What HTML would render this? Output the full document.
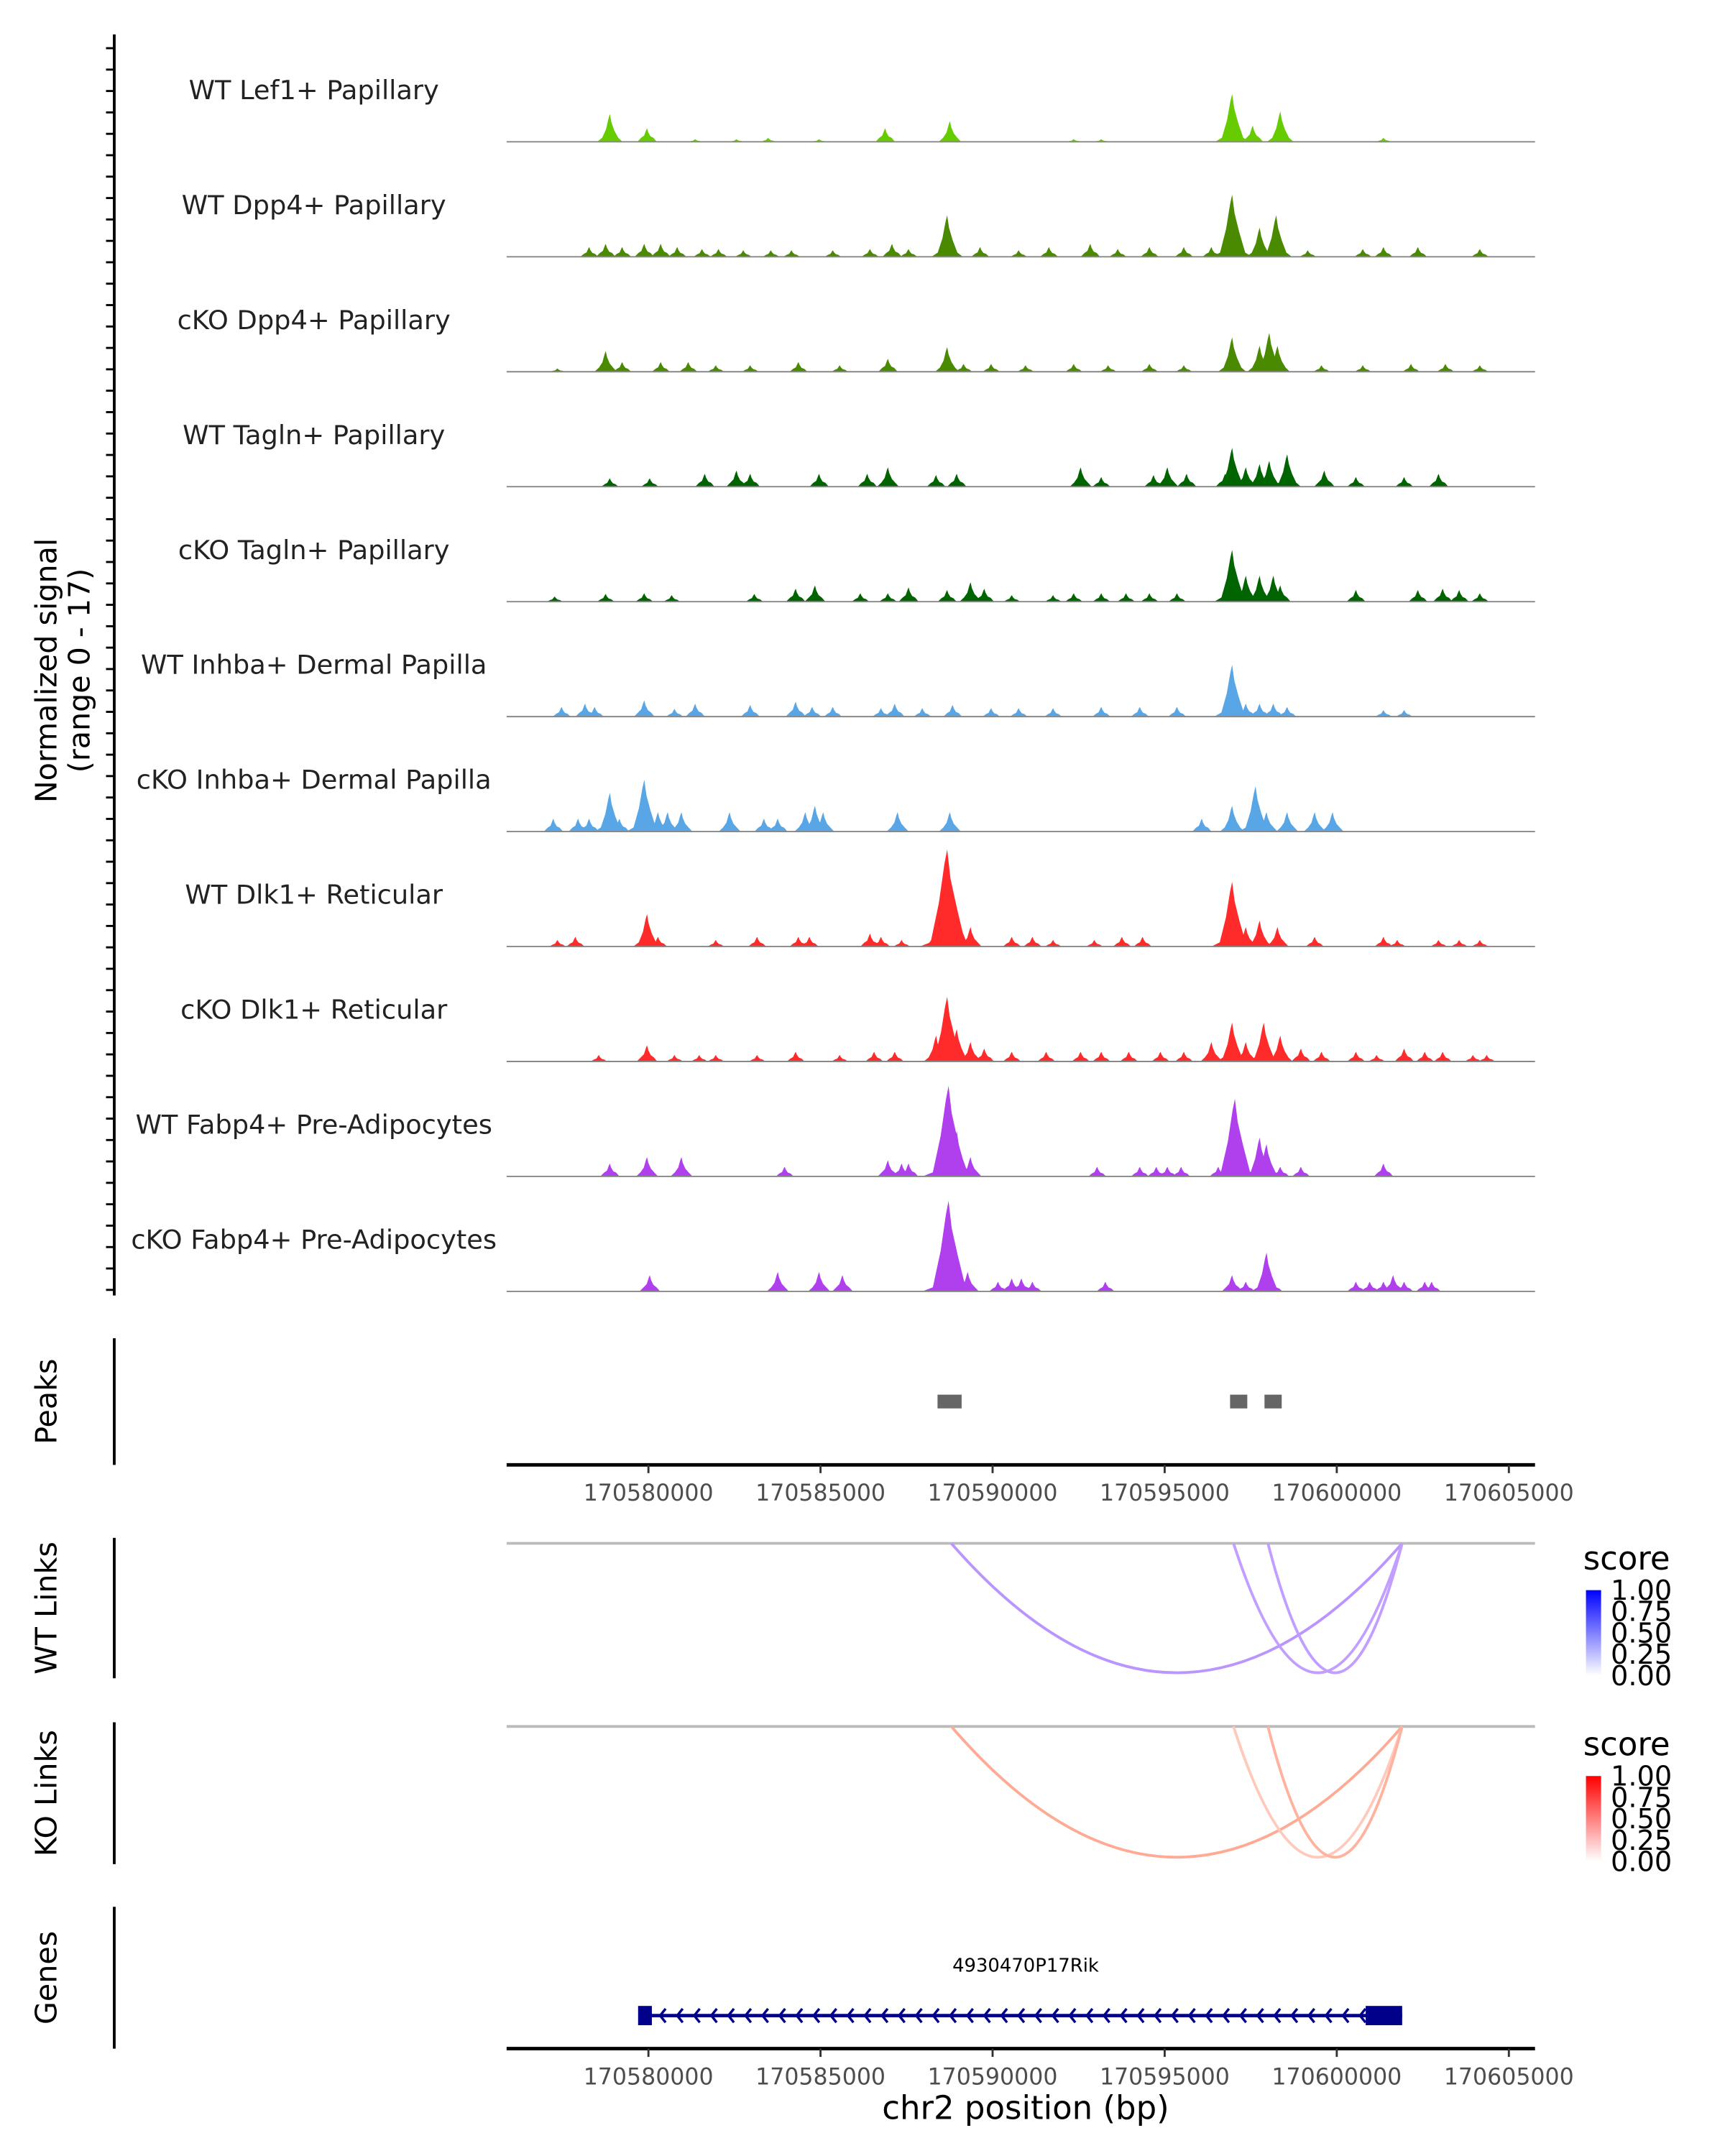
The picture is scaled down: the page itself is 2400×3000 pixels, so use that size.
<!DOCTYPE html>
<html><head><meta charset="utf-8"><style>html,body{margin:0;padding:0;background:#fff}svg{display:block}text{font-family:"DejaVu Sans","Liberation Sans",sans-serif}</style></head>
<body>
<svg id="chart" xmlns="http://www.w3.org/2000/svg" width="2400" height="3000" viewBox="0 0 1253 1566" preserveAspectRatio="none">
<defs>
<linearGradient id="gBlue" x1="0" y1="1" x2="0" y2="0"><stop offset="0" stop-color="#ffffff"/><stop offset="1" stop-color="#0000ff"/></linearGradient>
<linearGradient id="gRed" x1="0" y1="1" x2="0" y2="0"><stop offset="0" stop-color="#ffffff"/><stop offset="1" stop-color="#ff0000"/></linearGradient>
</defs>
<g id="tracks"></g>
<g id="axes"></g>
</svg>
<script>
const trackNames=["WT Lef1+ Papillary","WT Dpp4+ Papillary","cKO Dpp4+ Papillary","WT Tagln+ Papillary","cKO Tagln+ Papillary","WT Inhba+ Dermal Papilla","cKO Inhba+ Dermal Papilla","WT Dlk1+ Reticular","cKO Dlk1+ Reticular","WT Fabp4+ Pre-Adipocytes","cKO Fabp4+ Pre-Adipocytes"];
const trackColors=["#66cc00","#4a8a00","#4a8a00","#006400","#006400","#58a6e6","#58a6e6","#ff2a2a","#ff2a2a","#b040ee","#b040ee"];
// peak positions in kb relative to 170580000
const pos1=[-1.12,-0.04,3.48,6.88,8.76,16.96,17.56,18.36,21.36,1.36,2.56,4.96,12.36,13.16];
const val1=[4.3,2.1,0.6,2.1,3.2,7.4,2.5,4.7,0.6,0.4,0.4,0.4,0.4,0.4];
const pos2=[-1.72,-1.24,-0.76,-0.12,0.36,0.84,1.56,2.04,2.76,3.56,4.16,5.36,6.44,7.08,7.56,8.68,9.64,10.76,11.64,12.84,13.64,14.56,15.56,16.36,16.96,17.76,18.24,19.16,20.76,21.36,22.36,24.16];
const val2=[1.5,2,1.5,2,2,1.5,1.2,1.2,1,1,1,1,1.2,2,1.2,6.4,1.5,1,1.5,2,1.2,1.5,1.5,1.5,9.6,4.5,6.4,1,1.2,1.5,1.5,1.2];
const pos3=[-2.64,-1.24,-0.76,0.36,1.16,1.96,2.96,4.36,5.56,6.96,8.68,9.16,9.96,10.96,12.36,13.36,14.56,15.56,16.96,17.76,18.04,18.28,19.56,20.76,22.16,23.16,24.16];
const val3=[0.5,3.2,1.5,1.5,1.5,1,1,1.5,1,2,3.8,1.2,1.2,1,1.2,1,1.2,1,5.3,4,6,4,1,1,1.2,1.2,1];
const pos4=[-1.12,0.04,1.64,2.56,2.96,4.96,6.36,6.96,8.36,8.96,12.56,13.16,14.68,15.08,15.64,16.76,16.96,17.36,17.76,18.04,18.56,19.64,20.56,21.96,22.96];
const val4=[1.3,1.3,2,2.5,2,2,2,3,1.8,2,3,1.5,1.8,3,2,2,6,3,3.5,4,5,2.5,1.5,1.5,2];
const pos5=[-2.72,-1.24,-0.12,0.68,3.08,4.28,4.84,6.16,6.96,7.56,8.68,9.36,9.76,10.56,11.76,12.36,13.16,13.88,14.56,15.36,16.96,17.36,17.76,18.16,18.36,20.56,22.36,23.08,23.56,24.16];
const val5=[0.8,1.2,1.3,1,1.2,2,2.5,1.3,1.3,2.2,1.8,3,2,1,1,1.3,1.3,1.3,1.3,1.3,8,4,4,4,2.5,1.8,1.8,2,1.8,1.3];
const pos6=[-2.52,-1.84,-1.56,-0.12,0.76,1.36,2.96,4.28,4.76,5.36,6.76,7.16,7.96,8.84,9.96,10.76,11.76,13.16,14.28,15.36,16.96,17.36,17.76,18.16,18.56,21.36,21.96];
const val6=[1.5,2,1.5,2.5,1.2,2,1.8,2.3,1.5,1.5,1.3,2,1.3,1.8,1.3,1.3,1.3,1.5,1.5,1.5,8,2,2,2,1.5,1,1];
const pos7=[-2.76,-2.04,-1.72,-1.12,-0.84,-0.12,0.28,0.56,0.96,2.36,3.36,3.76,4.56,4.84,5.08,7.24,8.76,16.08,16.96,17.64,17.96,18.56,19.36,19.88];
const val7=[2,2,2,6,2,8,3,3,3,3,2,2,3,4,3,3,3,2,4,7,3,3,3,3];
const pos8=[-2.64,-2.12,-0.04,0.28,1.96,3.16,4.36,4.68,6.44,6.76,7.36,8.36,8.68,8.96,9.36,10.56,11.16,11.76,12.96,13.76,14.36,16.96,17.36,17.76,18.28,19.36,21.36,21.76,22.96,23.56,24.16];
const val8=[1,1.5,5,1.5,1,1.5,1.5,1.5,2,1.5,1,3,15,6,3,1.5,1.5,1,1,1.5,1.5,10,3,4,3,1.5,1.5,1,1,1,1];
const pos9=[-1.44,-0.04,0.76,1.48,1.96,3.16,4.28,5.56,6.56,7.16,8.36,8.68,8.96,9.36,9.76,10.56,11.56,12.56,13.16,13.96,14.88,15.56,16.36,16.96,17.36,17.88,18.36,18.96,19.56,20.56,21.16,21.96,22.56,23.08,23.96,24.36];
const val9=[1,2.5,1,1,1,1,1.5,1,1.5,1.5,4,10,5,3,2,1.5,1.5,1.5,1.5,1.5,1.5,1.5,3,6,3,6,4,2,1.5,1.5,1,2,1.5,1.5,1,1];
const pos10=[-1.12,-0.04,0.96,3.96,6.96,7.36,7.56,8.56,8.72,8.96,9.36,13.04,14.28,14.76,15.08,15.48,16.56,17.04,17.36,17.76,17.96,18.36,18.96,21.36];
const val10=[2,3,3,1.5,2.5,2,2,5,14,7,3,1.5,1.5,1.5,1.5,1.5,1.5,12,2,6,5,1.5,1.5,2];
const pos11=[0.04,3.76,4.96,5.64,8.36,8.72,8.96,9.28,10.16,10.56,10.84,11.16,13.28,16.96,17.36,17.96,18.16,20.56,20.96,21.36,21.64,21.96,22.56,22.76];
const val11=[2.5,3,3,2.5,1.5,14,6,3,1.5,2,2,1.5,1.5,2.5,1.5,6,1.5,1.5,1.5,1.5,2.5,1.5,1.5,1.5];
const trackPos=[pos1,pos2,pos3,pos4,pos5,pos6,pos7,pos8,pos9,pos10,pos11];
const trackVals=[val1,val2,val3,val4,val5,val6,val7,val8,val9,val10,val11];
const xTicks=[170580000,170585000,170590000,170595000,170600000,170605000];
const peakStarts=[170588400,170596900,170597900];
const peakEnds=[170589100,170597400,170598400];
const wtLinkStarts=[170588800,170597000,170598000];
const wtLinkScores=[0.55,0.5,0.5];
const koLinkStarts=[170588800,170597000,170598000];
const koLinkScores=[0.55,0.35,0.5];
const linkEnd=170601900;
const legendTicks=["1.00","0.75","0.50","0.25","0.00"];
const geneStart=170579900, geneEnd=170601900, geneUtr=170601000;

const NS="http://www.w3.org/2000/svg";
const svg=document.getElementById('chart');
const gT=document.getElementById('tracks'), gA=document.getElementById('axes');
function xScale(bp){return 471+(bp-170580000)*0.025;}
function xKb(kb){return xScale(170580000+kb*1000);}
const unitPx=4.7;
function mk(tag,attrs,parent,text){const e=document.createElementNS(NS,tag);for(const k in attrs)e.setAttribute(k,attrs[k]);if(text!==undefined)e.textContent=text;(parent||svg).appendChild(e);return e;}

for(let t=0;t<trackNames.length;t++){
  const base=103+t*83.5;
  const g=mk('g',{},gT);
  
  
  const lab=mk('text',{x:228,y:base-31,'text-anchor':'middle','font-size':19.2,fill:'#222'},g,trackNames[t]);
  
  
  const P=trackPos[t],V=trackVals[t];
  for(let i=0;i<P.length;i++){
    const cx=xKb(P[i]),h=V[i]*unitPx,w=(0.2+0.04*V[i])*25;
    const pts=[[cx-w,base],[cx-w*0.6,base-Math.min(h*0.3,3)],[cx-w*0.3,base-h*0.45],[cx-w*0.1,base-h*0.85],[cx,base-h],[cx+w*0.12,base-h*0.7],[cx+w*0.35,base-h*0.4],[cx+w*0.65,base-Math.min(h*0.3,3)],[cx+w,base]];
    const p=mk('polygon',{points:pts.map(q=>q.join(',')).join(' '),fill:trackColors[t]},g);
    
    
  }
  const bl=mk('line',{x1:368,x2:1115,y1:base,y2:base,stroke:'#888','stroke-width':1},g);
  
  
}
const yax=mk('line',{x1:83,x2:83,y1:25,y2:941,stroke:'#000','stroke-width':2},gA);


for(let y=35;y<=941;y+=15.55){const tk=mk('line',{x1:77,x2:83,y1:y,y2:y,stroke:'#000','stroke-width':1.5},gA);

}
const yt=mk('text',{transform:'translate(41,487) rotate(-90)','text-anchor':'middle','font-size':21.5,fill:'#000'},gA,'Normalized signal');


const yt2=mk('text',{transform:'translate(65,487) rotate(-90)','text-anchor':'middle','font-size':21.5,fill:'#000'},gA,'(range 0 - 17)');



function panel(label,y1,y2,name){
  const l=mk('line',{x1:83,x2:83,y1:y1,y2:y2,stroke:'#000','stroke-width':2},gA);
  
  
  const t=mk('text',{transform:'translate(41,'+((y1+y2)/2)+') rotate(-90)','text-anchor':'middle','font-size':21.5,fill:'#000'},gA,label);
  
  
}
function xAxis(y,name){
  const l=mk('line',{x1:368,x2:1115,y1:y,y2:y,stroke:'#000','stroke-width':2.5},gA);
  
  
  xTicks.forEach(v=>{const x=xScale(v);
    const tk=mk('line',{x1:x,x2:x,y1:y,y2:y+6,stroke:'#333','stroke-width':1.5},gA);
    
    
    const tl=mk('text',{x:x,y:y+26,'text-anchor':'middle','font-size':16.5,fill:'#4d4d4d'},gA,String(v));
    
    });
}
panel('Peaks',972,1064,'peaks');
for(let i=0;i<peakStarts.length;i++){const r=mk('rect',{x:xScale(peakStarts[i]),y:1013,width:xScale(peakEnds[i])-xScale(peakStarts[i]),height:10,fill:'#666'},gA);

}
xAxis(1064,'peaks-x-axis');

function lerpColor(c,s){const w=[255,255,255];return 'rgb('+c.map((v,i)=>Math.round(w[i]+(v-w[i])*s)).join(',')+')';}
function links(top,bottom,starts,scores,col,name){
  const bl=mk('line',{x1:368,x2:1115,y1:top,y2:top,stroke:'#bbb','stroke-width':2},gA);
  
  
  const xe=xScale(linkEnd);
  for(let i=0;i<starts.length;i++){const xs=xScale(starts[i]);const cy=2*bottom-top;
    const p=mk('path',{d:'M'+xs+','+top+' Q'+((xs+xe)/2)+','+cy+' '+xe+','+top,fill:'none',stroke:lerpColor(col,scores[i]),'stroke-width':2},gA);
    
    }
}
panel('WT Links',1117,1219,'wt-links');
links(1121,1215,wtLinkStarts,wtLinkScores,[130,60,255],'wt-link');
panel('KO Links',1251,1354,'ko-links');
links(1254,1349,koLinkStarts,koLinkScores,[255,100,60],'ko-link');
function legend(y0,grad,name){
  const t=mk('text',{x:1150,y:y0,'font-size':23.5,fill:'#000'},gA,'score');
  
  
  const r=mk('rect',{x:1152,y:y0+15,width:11,height:62,fill:'url(#'+grad+')'},gA);
  
  
  legendTicks.forEach((s,i)=>{const l=mk('text',{x:1170,y:y0+22+i*15.5,'font-size':20,fill:'#000'},gA,s);
  
  });
}
legend(1140,'gBlue','wt-legend');
legend(1275,'gRed','ko-legend');

panel('Genes',1385,1488,'genes');
const gl=mk('text',{x:745,y:1432,'text-anchor':'middle','font-size':13.5,fill:'#000'},gA,'4930470P17Rik');


const gx1=xScale(geneStart),gx2=xScale(geneEnd),gu=xScale(geneUtr);
const gline=mk('line',{x1:gx1,x2:gx2,y1:1464,y2:1464,stroke:'#00008b','stroke-width':2.5},gA);


for(let x=gx1+12;x<gu-4;x+=12.4){const a=mk('path',{d:'M'+(x+3)+',1459 L'+(x-1)+',1464 L'+(x+3)+',1469',fill:'none',stroke:'#00008b','stroke-width':1.8},gA);

}
const e1=mk('rect',{x:gx1-5,y:1457,width:10,height:14,fill:'#00008b'},gA);


const e2=mk('rect',{x:gu-4,y:1457,width:gx2-gu+4,height:14,fill:'#00008b'},gA);


xAxis(1488,'genes-x-axis');
const xt=mk('text',{x:745,y:1539,'text-anchor':'middle','font-size':23.5,fill:'#000'},gA,'chr2 position (bp)');


</script>
</body></html>
